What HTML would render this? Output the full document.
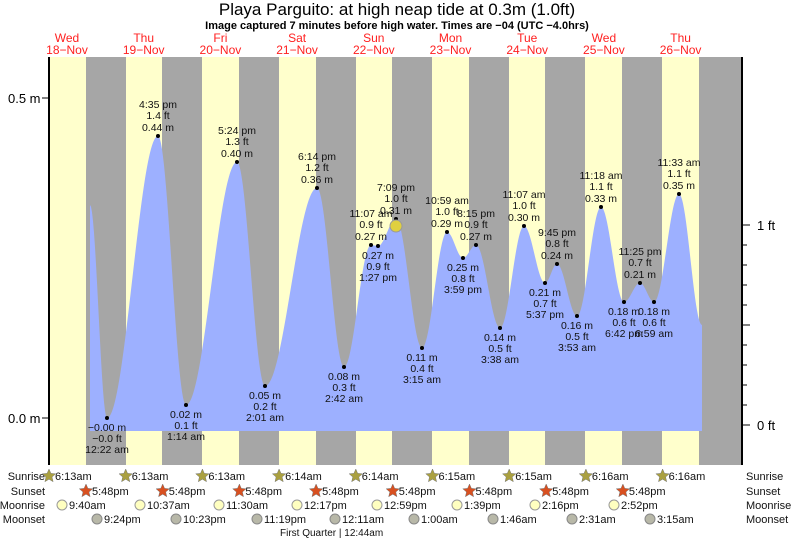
<!DOCTYPE html>
<html><head><meta charset="utf-8"><style>
body{margin:0;background:#fff;width:793px;height:539px;overflow:hidden}
svg{font-family:"Liberation Sans",sans-serif}
</style></head><body>
<svg id="s" width="793" height="539" xmlns="http://www.w3.org/2000/svg">
<rect x="49" y="57" width="693" height="408" fill="#a6a6a6"/>
<g fill="#ffffcc">
<rect x="49" y="57" width="37" height="408"/>
<rect x="126" y="57" width="36" height="408"/>
<rect x="202" y="57" width="37" height="408"/>
<rect x="279" y="57" width="37" height="408"/>
<rect x="356" y="57" width="36" height="408"/>
<rect x="432" y="57" width="37" height="408"/>
<rect x="509" y="57" width="36" height="408"/>
<rect x="585" y="57" width="37" height="408"/>
<rect x="662" y="57" width="37" height="408"/>
</g>
<path id="tide" fill="#9db0ff" d=""/>
<line x1="49" y1="57" x2="49" y2="465" stroke="#000" stroke-width="2"/>
<line x1="742" y1="57" x2="742" y2="465" stroke="#000" stroke-width="2"/>
<g stroke="#000"><line x1="42" y1="98" x2="49" y2="98"/><line x1="42" y1="418" x2="49" y2="418"/></g>
<g id="rt" stroke="#000"></g>
<g font-size="13" fill="#000">
<text x="8" y="103">0.5 m</text><text x="8" y="423">0.0 m</text>
<text x="757" y="230">1 ft</text><text x="757" y="430">0 ft</text>
</g>
<text x="397" y="15" font-size="17" text-anchor="middle">Playa Parguito: at high  neap tide at 0.3m (1.0ft)</text>
<text x="397" y="29" font-size="11" font-weight="bold" text-anchor="middle">Image captured 7 minutes before high water. Times are −04 (UTC −4.0hrs)</text>
<g id="days" font-size="12" fill="#ff2020" text-anchor="middle"></g>
<g id="lab" font-size="10.5" fill="#111" text-anchor="middle"></g>
<circle cx="396" cy="226" r="6" fill="#e0d040" stroke="#999"/>
<g id="bot" font-size="11" fill="#111"></g>
<text x="280" y="536" font-size="10" fill="#111">First Quarter | 12:44am</text>
</svg>
<script>
var NS="http://www.w3.org/2000/svg";
function el(p,t,a,txt){var e=document.createElementNS(NS,t);for(var k in a)e.setAttribute(k,a[k]);if(txt)e.textContent=txt;p.appendChild(e);return e;}
var pts=[[90,205],[107,418],[158,136],[186,405],[237,162],[265,386],[317,188],[344,367],[371,245],[378,246],[396,219],[422,348],[447,232],[463,258],[476,245],[500,328],[524,226],[545,283],[557,264],[577,316],[601,207],[624,302],[640,283],[654,302],[679,194],[702,325]];
var d="M90,431 L90,205";
for(var i=0;i<pts.length-1;i++){var a=pts[i],b=pts[i+1];for(var x=a[0]+1;x<=b[0];x++){var t=(x-a[0])/(b[0]-a[0]);var y=a[1]+(b[1]-a[1])*(1-Math.cos(Math.PI*t))/2;d+=" L"+x+","+y.toFixed(1);}}
d+=" L702,431 Z";document.getElementById("tide").setAttribute("d",d);
var rt=document.getElementById("rt");for(var k=0;k<=10;k++){var y=425-k*20;if(y<57)break;el(rt,"line",{x1:742,y1:y,x2:(k%5==0?750:747),y2:y});}
var dn=[["Wed","18"],["Thu","19"],["Fri","20"],["Sat","21"],["Sun","22"],["Mon","23"],["Tue","24"],["Wed","25"],["Thu","26"]];
var dg=document.getElementById("days");dn.forEach(function(v,i){var x=67+i*76.7;el(dg,"text",{x:x,y:42},v[0]);el(dg,"text",{x:x,y:54},v[1]+"−Nov");});
var L=document.getElementById("lab");
var ex=[[107,418,0,"−0.00 m","−0.0 ft","12:22 am"],[158,136,1,"4:35 pm","1.4 ft","0.44 m"],[186,405,0,"0.02 m","0.1 ft","1:14 am"],[237,162,1,"5:24 pm","1.3 ft","0.40 m"],[265,386,0,"0.05 m","0.2 ft","2:01 am"],[317,188,1,"6:14 pm","1.2 ft","0.36 m"],[344,367,0,"0.08 m","0.3 ft","2:42 am"],[371,245,1,"11:07 am","0.9 ft","0.27 m"],[378,246,0,"0.27 m","0.9 ft","1:27 pm"],[396,219,1,"7:09 pm","1.0 ft","0.31 m"],[422,348,0,"0.11 m","0.4 ft","3:15 am"],[447,232,1,"10:59 am","1.0 ft","0.29 m"],[463,258,0,"0.25 m","0.8 ft","3:59 pm"],[476,245,1,"8:15 pm","0.9 ft","0.27 m"],[500,328,0,"0.14 m","0.5 ft","3:38 am"],[524,226,1,"11:07 am","1.0 ft","0.30 m"],[545,283,0,"0.21 m","0.7 ft","5:37 pm"],[557,264,1,"9:45 pm","0.8 ft","0.24 m"],[577,316,0,"0.16 m","0.5 ft","3:53 am"],[601,207,1,"11:18 am","1.1 ft","0.33 m"],[624,302,0,"0.18 m","0.6 ft","6:42 pm"],[640,283,1,"11:25 pm","0.7 ft","0.21 m"],[654,302,0,"0.18 m","0.6 ft","6:59 am"],[679,194,1,"11:33 am","1.1 ft","0.35 m"]];
ex.forEach(function(e){el(L,"circle",{cx:e[0],cy:e[1],r:2,fill:"#000"});
if(e[2]){el(L,"text",{x:e[0],y:e[1]-28},e[3]);el(L,"text",{x:e[0],y:e[1]-17},e[4]);el(L,"text",{x:e[0],y:e[1]-5},e[5]);}
else{el(L,"text",{x:e[0],y:e[1]+13},e[3]);el(L,"text",{x:e[0],y:e[1]+24},e[4]);el(L,"text",{x:e[0],y:e[1]+35},e[5]);}});
var B=document.getElementById("bot");
[["Sunrise",480],["Sunset",495],["Moonrise",509],["Moonset",523]].forEach(function(r){el(B,"text",{x:45,y:r[1],"text-anchor":"end"},r[0]);el(B,"text",{x:746,y:r[1]},r[0]);});
function star(cx,cy,f){var p="";for(var i=0;i<10;i++){var a=-Math.PI/2+i*Math.PI/5,rr=i%2?3.2:7;p+=(cx+rr*Math.cos(a)).toFixed(1)+","+(cy+rr*Math.sin(a)).toFixed(1)+" ";}el(B,"polygon",{points:p,fill:f,stroke:"#777","stroke-width":0.5});}
var sr=["6:13am","6:13am","6:13am","6:14am","6:14am","6:15am","6:15am","6:16am","6:16am"];
sr.forEach(function(t,i){var x=49+i*76.7;star(x,476,"#aaa040");el(B,"text",{x:x+6,y:480},t);});
for(var i=0;i<8;i++){var x=86+i*76.7;star(x,491,"#d85020");el(B,"text",{x:x+6,y:495},"5:48pm");}
var mr=[[62,"9:40am"],[140,"10:37am"],[219,"11:30am"],[297,"12:17pm"],[377,"12:59pm"],[457,"1:39pm"],[535,"2:16pm"],[614,"2:52pm"]];
mr.forEach(function(m){el(B,"circle",{cx:m[0],cy:505,r:5,fill:"#ffffc0",stroke:"#999"});el(B,"text",{x:m[0]+7,y:509},m[1]);});
var ms=[[97,"9:24pm"],[176,"10:23pm"],[257,"11:19pm"],[335,"12:11am"],[414,"1:00am"],[493,"1:46am"],[572,"2:31am"],[650,"3:15am"]];
ms.forEach(function(m){el(B,"circle",{cx:m[0],cy:519,r:5,fill:"#b8b8a8",stroke:"#888"});el(B,"text",{x:m[0]+7,y:523},m[1]);});
</script>
</body></html>
